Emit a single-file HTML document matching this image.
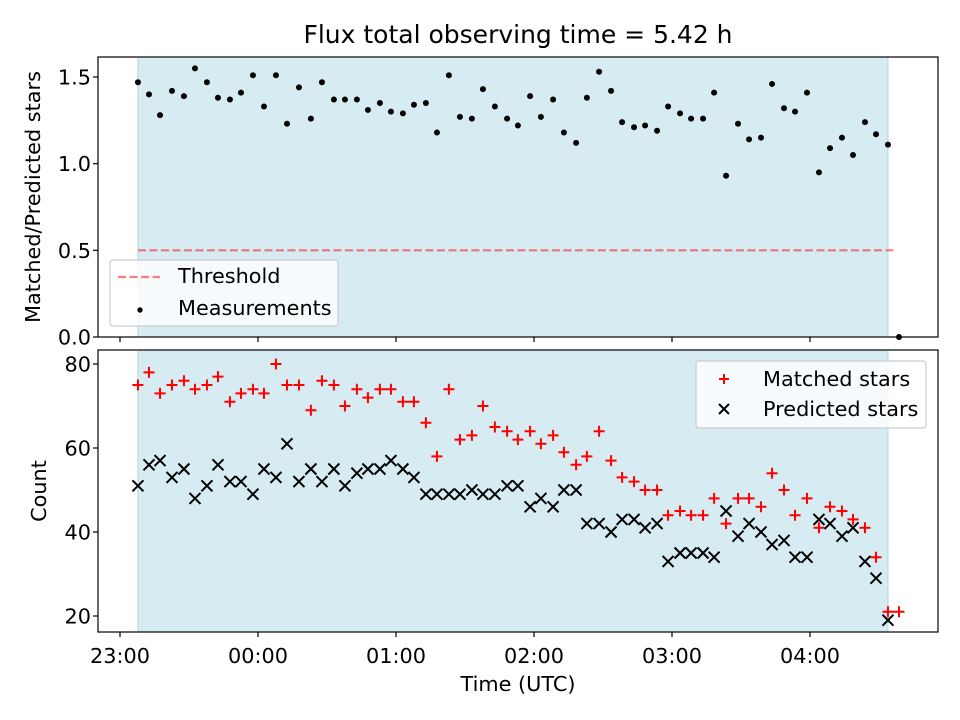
<!DOCTYPE html>
<html><head><meta charset="utf-8"><style>
body{margin:0;background:#fff}
svg{display:block;font-family:"DejaVu Sans","Liberation Sans",sans-serif}
</style></head><body>
<svg id="c" width="960" height="720" viewBox="0 0 960 720" xmlns="http://www.w3.org/2000/svg"></svg>
<script>
const times=[7.8,12.6,17.4,22.6,27.8,32.6,37.8,42.6,47.8,52.6,57.8,62.6,67.8,72.6,77.8,83.0,87.8,93.0,97.8,103.0,107.8,113.0,117.8,123.0,127.8,133.0,137.8,143.0,147.8,153.0,157.8,163.0,168.3,173.0,178.3,183.0,188.3,193.0,198.3,203.0,208.3,213.5,218.3,223.5,228.3,233.5,238.3,243.5,248.3,253.5,258.3,263.5,268.7,273.5,278.7,283.5,288.7,293.5,298.7,303.9,308.7,313.9,318.7,323.9,328.7,333.9,338.7];
const ratio=[1.47,1.40,1.28,1.42,1.39,1.55,1.47,1.38,1.37,1.41,1.51,1.33,1.51,1.23,1.44,1.26,1.47,1.37,1.37,1.37,1.31,1.35,1.30,1.29,1.34,1.35,1.18,1.51,1.27,1.26,1.43,1.33,1.26,1.22,1.39,1.27,1.37,1.18,1.12,1.38,1.53,1.42,1.24,1.21,1.22,1.19,1.33,1.29,1.26,1.26,1.41,0.93,1.23,1.14,1.15,1.46,1.32,1.30,1.41,0.95,1.09,1.15,1.05,1.24,1.17,1.11,0.00];
const matched=[75,78,73,75,76,74,75,77,71,73,74,73,80,75,75,69,76,75,70,74,72,74,74,71,71,66,58,74,62,63,70,65,64,62,64,61,63,59,56,58,64,57,53,52,50,50,44,45,44,44,48,42,48,48,46,54,50,44,48,41,46,45,43,41,34,21,21];
const predicted=[51,56,57,53,55,48,51,56,52,52,49,55,53,61,52,55,52,55,51,54,55,55,57,55,53,49,49,49,49,50,49,49,51,51,46,48,46,50,50,42,42,40,43,43,41,42,33,35,35,35,34,45,39,42,40,37,38,34,34,43,42,39,41,33,29,19];
const xTickLabels=["23:00","00:00","01:00","02:00","03:00","04:00"];
const xTickMins=[0,60,120,180,240,300];
const topTicks=[0,0.5,1,1.5];
const botTicks=[20,40,60,80];
const threshold=0.5, spanStart=7.8, spanEnd=333.9, threshEnd=336.5;

const NS="http://www.w3.org/2000/svg", svg=document.getElementById('c');
function el(t,a,p){const e=document.createElementNS(NS,t);for(const k in a)e.setAttribute(k,a[k]);(p||svg).appendChild(e);return e;}
const L=98,R=938,T1=57,B1=337,T2=350,B2=632;
const X=m=>120+m*2.3;
const Y1=v=>337-v*173.33;
const Y2=v=>616-(v-20)*4.2;
const FS='20.8';

let t=el('text',{x:518,y:43,'font-size':'25','text-anchor':'middle',fill:'#000'});t.textContent='Flux total observing time = 5.42 h';



function panel(T,B,name){
  let g=el('g',{});
  
  
  let s=el('rect',{x:X(spanStart),y:T,width:X(spanEnd)-X(spanStart),height:B-T,fill:'#add8e6','fill-opacity':0.5,stroke:'#add8e6','stroke-width':1},g);
  
  
  return g;
}
const g1=panel(T1,B1,'ratio-panel');
const g2=panel(T2,B2,'count-panel');

let th=el('line',{x1:X(spanStart),x2:X(threshEnd),y1:Y1(threshold),y2:Y1(threshold),stroke:'#ff0000','stroke-opacity':0.5,'stroke-width':2.2,'stroke-dasharray':'8,3.5'},g1);


ratio.forEach((v,i)=>{
  const c=el('circle',{cx:X(times[i]),cy:Y1(v),r:3,fill:'#000'},g1);
  
  
});
predicted.forEach((v,i)=>{
  const x=X(times[i]),y=Y2(v),d=5.5;
  const p=el('path',{d:`M${x-d},${y-d}L${x+d},${y+d}M${x-d},${y+d}L${x+d},${y-d}`,stroke:'#000','stroke-width':2},g2);
  
  
});
matched.forEach((v,i)=>{
  const x=X(times[i]),y=Y2(v),d=5.5;
  const p=el('path',{d:`M${x-d},${y}L${x+d},${y}M${x},${y-d}L${x},${y+d}`,stroke:'#ff0000','stroke-width':2},g2);
  
  
});

[[T1,B1,'ratio-frame'],[T2,B2,'count-frame']].forEach(([T,B,n])=>{
  const r=el('rect',{x:L,y:T,width:R-L,height:B-T,fill:'none',stroke:'#000','stroke-width':1.2});
  
  
});
xTickMins.forEach((m,i)=>{
  const x=X(m);
  el('line',{x1:x,x2:x,y1:B1,y2:B1+5,stroke:'#000','stroke-width':1.2});
  el('line',{x1:x,x2:x,y1:B2,y2:B2+5,stroke:'#000','stroke-width':1.2});
  const tx=el('text',{x:x,y:663,'font-size':FS,'text-anchor':'middle'});tx.textContent=xTickLabels[i];
  
  
});
topTicks.forEach(v=>{
  const y=Y1(v);
  el('line',{x1:L-5,x2:L,y1:y,y2:y,stroke:'#000','stroke-width':1.2});
  const tx=el('text',{x:L-7,y:y+7.5,'font-size':FS,'text-anchor':'end'});tx.textContent=v.toFixed(1);
  
  
});
botTicks.forEach(v=>{
  const y=Y2(v);
  el('line',{x1:L-5,x2:L,y1:y,y2:y,stroke:'#000','stroke-width':1.2});
  const tx=el('text',{x:L-7,y:y+7.5,'font-size':FS,'text-anchor':'end'});tx.textContent=v;
  
  
});
let a=el('text',{x:518,y:691,'font-size':FS,'text-anchor':'middle'});a.textContent='Time (UTC)';


a=el('text',{x:0,y:0,'font-size':FS,'text-anchor':'middle',transform:'translate(40,197) rotate(-90)'});a.textContent='Matched/Predicted stars';


a=el('text',{x:0,y:0,'font-size':FS,'text-anchor':'middle',transform:'translate(46,491) rotate(-90)'});a.textContent='Count';



function legend(x,y,w,h,name){
  const g=el('g',{});
  
  
  el('rect',{x,y,width:w,height:h,rx:3,fill:'#fff','fill-opacity':0.8,stroke:'#ccc','stroke-width':1.2},g);
  return g;
}
let lg=legend(110,260,228,66,'legend-top');
el('line',{x1:118,x2:160,y1:277,y2:277,stroke:'#ff0000','stroke-opacity':0.5,'stroke-width':2.2,'stroke-dasharray':'8,3.5'},lg);
el('circle',{cx:140,cy:310,r:2.7,fill:'#000'},lg);
t=el('text',{x:178,y:283,'font-size':FS},lg);t.textContent='Threshold';


t=el('text',{x:178,y:315,'font-size':FS},lg);t.textContent='Measurements';


lg=legend(696,361,230,67,'legend-bottom');
el('path',{d:'M719,379h10M724,374v10',stroke:'#ff0000','stroke-width':2},lg);
el('path',{d:'M719,404l10,10M719,414l10,-10',stroke:'#000','stroke-width':2},lg);
t=el('text',{x:763,y:386,'font-size':FS},lg);t.textContent='Matched stars';


t=el('text',{x:763,y:416,'font-size':FS},lg);t.textContent='Predicted stars';


</script>
</body></html>
